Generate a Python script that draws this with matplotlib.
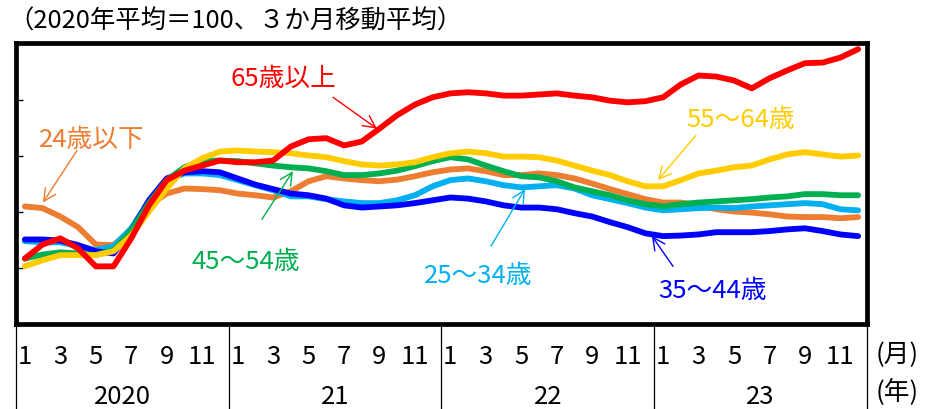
import matplotlib
matplotlib.use("Agg")
import matplotlib.pyplot as plt
import matplotlib.transforms as mtransforms

plt.rcParams['font.family'] = ['Noto Sans CJK JP', 'DejaVu Sans']

# 2020年1月～2023年12月（2020年平均=100、3か月移動平均）
months = list(range(48))
month_labels = ['1', '3', '5', '7', '9', '11']
year_labels = ['2020', '21', '22', '23']

age_24_under = [101.0, 100.7, 99.2, 97.3, 94.2, 94.1, 96.7, 101.2, 103.3, 104.2, 104.1, 103.9,
                103.3, 103.0, 102.6, 103.7, 105.5, 106.4, 106.0, 105.7, 105.5, 105.8, 106.4, 107.1,
                107.6, 107.8, 107.3, 106.6, 106.6, 106.9, 106.6, 106.0, 105.1, 104.1, 103.2, 102.3,
                101.7, 101.7, 101.2, 100.5, 100.1, 99.9, 99.6, 99.2, 99.1, 99.1, 98.9, 99.1]
age_25_34 = [94.8, 94.6, 94.6, 93.9, 93.2, 93.9, 97.1, 101.9, 105.7, 106.9, 106.9, 106.6,
             105.7, 104.8, 103.9, 102.8, 102.8, 102.3, 101.9, 101.6, 101.6, 102.1, 103.0, 104.6,
             105.7, 106.0, 105.5, 104.8, 104.4, 104.6, 104.8, 104.2, 103.0, 102.3, 101.6, 100.8,
             100.3, 100.5, 100.7, 100.8, 100.7, 101.0, 101.2, 101.4, 101.6, 101.4, 100.5, 100.3]
age_35_44 = [95.1, 95.1, 94.9, 94.1, 93.0, 92.6, 96.7, 102.1, 106.0, 107.1, 107.3, 107.1,
             106.0, 104.9, 104.1, 103.3, 103.0, 102.4, 101.2, 100.8, 101.0, 101.2, 101.6, 102.1,
             102.6, 102.4, 101.9, 101.2, 100.8, 100.8, 100.5, 99.8, 99.2, 98.2, 97.3, 96.2,
             95.7, 95.8, 96.0, 96.4, 96.4, 96.4, 96.6, 96.9, 97.1, 96.6, 96.0, 95.7]
age_45_54 = [91.7, 92.4, 92.8, 92.6, 92.3, 93.2, 96.7, 101.6, 105.7, 108.0, 109.1, 109.2,
             109.1, 108.7, 108.3, 108.0, 107.8, 107.3, 106.6, 106.6, 106.9, 107.4, 108.2, 109.1,
             109.8, 109.4, 108.3, 107.3, 106.4, 106.2, 105.5, 104.4, 103.7, 103.0, 102.1, 101.4,
             101.0, 101.4, 101.7, 101.9, 102.1, 102.3, 102.6, 102.8, 103.2, 103.2, 103.0, 103.0]
age_55_64 = [90.3, 91.4, 92.3, 92.3, 92.3, 93.0, 95.8, 100.1, 104.2, 107.8, 109.6, 110.8,
             111.0, 110.8, 110.7, 110.5, 110.1, 109.8, 109.1, 108.5, 108.3, 108.5, 108.9, 109.8,
             110.5, 110.8, 110.5, 109.9, 109.9, 109.8, 109.2, 108.3, 107.4, 106.6, 105.5, 104.6,
             104.6, 105.7, 106.9, 107.4, 108.0, 108.3, 109.4, 110.3, 110.7, 110.3, 109.9, 110.1]
age_65_over = [91.7, 94.2, 95.3, 93.5, 90.3, 90.3, 95.3, 101.2, 105.7, 107.4, 108.3, 109.2,
               108.9, 108.9, 109.2, 111.7, 113.0, 113.2, 111.9, 112.6, 114.9, 117.3, 119.2, 120.5,
               121.2, 121.4, 121.2, 120.8, 120.8, 121.0, 121.2, 120.8, 120.5, 119.9, 119.6, 119.8,
               120.5, 122.8, 124.4, 124.2, 123.5, 122.1, 123.9, 125.3, 126.6, 126.7, 127.6, 129.1]

fig = plt.figure(figsize=(9.28, 4.10), dpi=100)
ax = fig.add_axes([16 / 928, 85 / 410, 851 / 928, 281 / 410])

series = [
    (age_24_under, '#ED7D31'),
    (age_25_34, '#00B0F0'),
    (age_35_44, '#0000FF'),
    (age_45_54, '#00B050'),
    (age_55_64, '#FFCC00'),
    (age_65_over, '#FF0000'),
]
for vals, col in series:
    ax.plot(months, vals, color=col, lw=4.2, solid_capstyle='round', solid_joinstyle='round')

ax.set_xlim(-0.5, 47.5)
ax.set_ylim(80, 130.2)
ax.set_yticks([90, 100, 110, 120])
ax.tick_params(axis='y', direction='in', length=5, width=1, labelleft=False)
ax.set_xticks([])
for s in ax.spines.values():
    s.set_linewidth(3.4)
    s.set_color('black')

# 月・年のラベルと区切り線
trans = mtransforms.blended_transform_factory(ax.transData, fig.transFigure)
for y in range(4):
    for k, lab in enumerate(month_labels):
        ax.text(y * 12 + k * 2, (410 - 357) / 410, lab, transform=trans,
                ha='center', va='center', fontsize=18.5)
    ax.text(y * 12 + 5.5, (410 - 397) / 410, year_labels[y], transform=trans,
            ha='center', va='center', fontsize=18.5)
for y in range(5):
    ax.plot([y * 12 - 0.5, y * 12 - 0.5], [0, 85 / 410], transform=trans,
            color='black', lw=0.9, clip_on=False)

fig.text(897 / 928, (410 - 355) / 410, '(月)', ha='center', va='center', fontsize=18.5)
fig.text(897 / 928, (410 - 392) / 410, '(年)', ha='center', va='center', fontsize=18.5)
fig.text(8 / 928, (410 - 22) / 410, '（2020年平均＝100、３か月移動平均）',
         ha='left', va='center', fontsize=18.3)

# 注記（テキスト位置, 矢印の始点, 矢印の先）
notes = [
    ('65歳以上', '#FF0000', (14.56, 123.9), (17.38, 120.5), (19.86, 114.9)),
    ('24歳以下', '#ED7D31', (3.79, 113.0), (2.94, 111.0), (1.02, 101.7)),
    ('45～54歳', '#00B050', (12.47, 91.2), (13.37, 98.7), (15.12, 107.3)),
    ('25～34歳', '#00B0F0', (25.56, 88.7), (26.29, 93.9), (28.21, 104.1)),
    ('55～64歳', '#FFCC00', (40.39, 116.7), (37.85, 113.7), (35.71, 105.7)),
    ('35～44歳', '#0000FF', (38.81, 86.0), (36.56, 90.3), (35.37, 95.7)),
]
for txt, col, tpos, tail, tip in notes:
    ax.text(tpos[0], tpos[1], txt, color=col, ha='center', va='center', fontsize=18.5)
    ax.annotate('', xy=tip, xytext=tail,
                arrowprops=dict(arrowstyle='->', color=col, lw=1, mutation_scale=22,
                                shrinkA=0, shrinkB=0))

fig.savefig('out.png', dpi=100)
